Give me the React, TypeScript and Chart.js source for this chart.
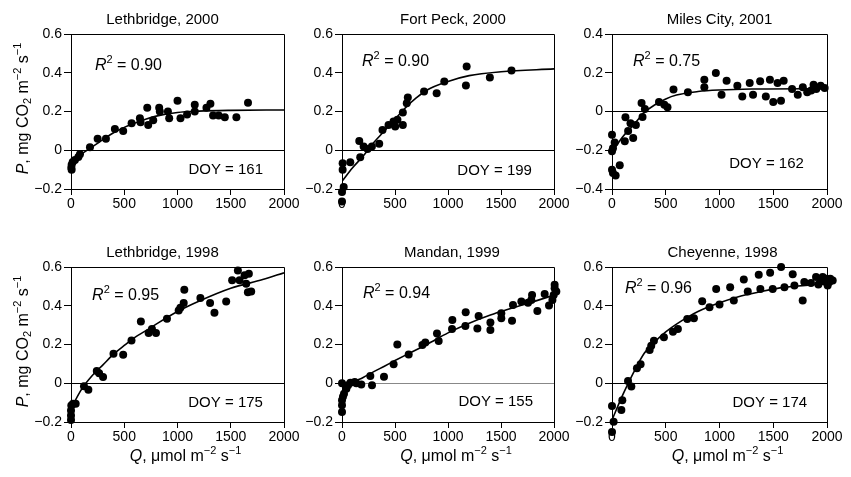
import React, { useEffect, useRef } from 'react';
import { Chart, registerables } from 'chart.js';
Chart.register(...registerables);

const FONT = "'Liberation Sans', Arial, Helvetica, sans-serif";

// ---------- Data (Q: µmol m-2 s-1, P: mg CO2 m-2 s-1) ----------
// Lethbridge, 2000
const leth2000Q = [3, 6, 6, 16, 37, 69, 84, 178, 250, 328, 412, 490, 569, 647, 653, 716, 725, 772, 828, 834, 910, 922, 1000, 1028, 1090, 1162, 1162, 1272, 1309, 1334, 1387, 1444, 1553, 1662];
const leth2000P = [-0.09, -0.1, -0.075, -0.06, -0.05, -0.035, -0.02, 0.015, 0.06, 0.06, 0.11, 0.1, 0.14, 0.165, 0.145, 0.22, 0.13, 0.155, 0.22, 0.2, 0.2, 0.165, 0.255, 0.165, 0.185, 0.235, 0.2, 0.22, 0.24, 0.18, 0.18, 0.17, 0.17, 0.245];
const leth2000FitQ = [0, 50, 100, 180, 300, 400, 500, 600, 700, 800, 1000, 1200, 1500, 2000];
const leth2000FitP = [-0.09, -0.05, -0.02, 0.01, 0.055, 0.09, 0.118, 0.14, 0.16, 0.176, 0.195, 0.202, 0.206, 0.208];

// Fort Peck, 2000
const fortPeckQ = [0, 0, 16, 6, 6, 78, 163, 172, 204, 241, 282, 351, 382, 439, 486, 502, 523, 574, 574, 611, 621, 774, 893, 965, 1176, 1169, 1395, 1599];
const fortPeckP = [-0.265, -0.215, -0.19, -0.1, -0.067, -0.062, 0.048, -0.036, 0.019, 0.007, 0.02, 0.033, 0.105, 0.13, 0.148, 0.122, 0.157, 0.13, 0.195, 0.243, 0.272, 0.303, 0.294, 0.355, 0.432, 0.334, 0.375, 0.411];
const fortPeckFitQ = [0, 100, 200, 300, 400, 500, 600, 700, 800, 1000, 1200, 1500, 2000];
const fortPeckFitP = [-0.16, -0.09, -0.03, 0.04, 0.1, 0.16, 0.22, 0.27, 0.31, 0.355, 0.385, 0.405, 0.42];

// Miles City, 2001
const milesQ = [0, 0, 9, 25, 0, 9, 34, 72, 119, 125, 150, 172, 197, 222, 275, 284, 306, 437, 487, 516, 572, 706, 859, 859, 966, 1019, 1066, 1166, 1212, 1281, 1312, 1378, 1431, 1469, 1500, 1540, 1572, 1597, 1675, 1728, 1775, 1816, 1853, 1875, 1900, 1941, 1978];
const milesP = [-0.12, -0.205, -0.19, -0.16, -0.3, -0.317, -0.33, -0.278, -0.154, -0.03, -0.1, -0.06, -0.137, -0.07, 0.044, -0.028, 0.013, 0.049, 0.035, 0.022, 0.113, 0.099, 0.164, 0.125, 0.199, 0.087, 0.159, 0.133, 0.078, 0.147, 0.087, 0.156, 0.078, 0.164, 0.049, 0.147, 0.056, 0.159, 0.116, 0.087, 0.125, 0.099, 0.109, 0.138, 0.116, 0.133, 0.121];
const milesFitQ = [0, 100, 200, 300, 400, 500, 600, 800, 1000, 1300, 2000];
const milesFitP = [-0.21, -0.13, -0.07, -0.005, 0.035, 0.065, 0.085, 0.103, 0.111, 0.116, 0.118];

// Lethbridge, 1998
const leth1998Q = [0, 0, 0, 3, 19, 44, 122, 163, 242, 264, 301, 399, 490, 568, 656, 729, 760, 798, 901, 1011, 1027, 1064, 1058, 1215, 1306, 1347, 1457, 1513, 1567, 1583, 1630, 1670, 1645, 1661, 1692];
const leth1998P = [-0.19, -0.166, -0.14, -0.115, -0.106, -0.106, -0.016, -0.034, 0.063, 0.052, 0.032, 0.152, 0.147, 0.221, 0.319, 0.259, 0.28, 0.259, 0.333, 0.376, 0.39, 0.482, 0.414, 0.44, 0.414, 0.364, 0.422, 0.531, 0.582, 0.531, 0.557, 0.565, 0.514, 0.47, 0.474];
const leth1998FitQ = [0, 100, 200, 300, 400, 500, 600, 700, 800, 1000, 1200, 1500, 1800, 2000];
const leth1998FitP = [-0.13, -0.03, 0.04, 0.095, 0.15, 0.195, 0.237, 0.27, 0.305, 0.37, 0.423, 0.49, 0.535, 0.57];

// Mandan, 1999
const mandanQ = [0, 0, 0, 0, 9, 19, 41, 57, 79, 120, 135, 182, 267, 283, 396, 487, 522, 629, 758, 786, 896, 912, 1038, 1041, 1164, 1167, 1289, 1277, 1400, 1400, 1503, 1503, 1604, 1613, 1692, 1755, 1793, 1786, 1843, 1912, 1953, 1985, 2006, 2006, 2022, 1997];
const mandanP = [0, -0.088, -0.114, -0.149, -0.07, -0.054, -0.028, -0.01, 0.002, 0.007, 0, -0.007, 0.038, -0.01, 0.033, 0.098, 0.2, 0.149, 0.197, 0.21, 0.257, 0.218, 0.28, 0.327, 0.295, 0.366, 0.347, 0.283, 0.313, 0.275, 0.335, 0.361, 0.323, 0.404, 0.422, 0.416, 0.456, 0.43, 0.373, 0.461, 0.401, 0.43, 0.508, 0.49, 0.473, 0.456];
const mandanFitQ = [0, 30, 90, 200, 300, 400, 500, 600, 800, 1000, 1200, 1400, 1600, 1800, 2000];
const mandanFitP = [-0.055, -0.025, 0.0, 0.03, 0.06, 0.088, 0.117, 0.145, 0.2, 0.26, 0.31, 0.352, 0.387, 0.42, 0.455];

// Cheyenne, 1998
const cheyenneQ = [0, 0, 15, 87, 96, 149, 180, 232, 266, 350, 365, 390, 483, 567, 613, 700, 762, 839, 907, 969, 1000, 1099, 1133, 1226, 1263, 1365, 1380, 1471, 1495, 1573, 1604, 1681, 1697, 1774, 1789, 1851, 1898, 1920, 1944, 1960, 1975, 1991, 2022, 2030, 2053, 2006];
const cheyenneP = [-0.252, -0.117, -0.199, -0.138, -0.088, 0.012, -0.017, 0.078, 0.098, 0.171, 0.194, 0.219, 0.237, 0.266, 0.28, 0.332, 0.335, 0.423, 0.392, 0.487, 0.406, 0.496, 0.427, 0.536, 0.473, 0.56, 0.487, 0.57, 0.487, 0.6, 0.496, 0.562, 0.505, 0.427, 0.522, 0.517, 0.548, 0.51, 0.53, 0.548, 0.525, 0.539, 0.522, 0.54, 0.53, 0.505];
const cheyenneFitQ = [0, 100, 200, 300, 400, 500, 600, 700, 800, 1000, 1200, 1400, 1600, 1800, 2000];
const cheyenneFitP = [-0.19, -0.06, 0.055, 0.155, 0.215, 0.265, 0.305, 0.34, 0.37, 0.415, 0.45, 0.475, 0.495, 0.505, 0.515];

const xTicks = [0, 500, 1000, 1500, 2000];

// ---------- Layout ----------
const COL_PLOT_LEFT = [71, 342, 612];
const COL_PLOT_WIDTH = [213, 212, 215];
const ROW_CANVAS_TOP = [0, 236];
const ROW_CANVAS_H = [236, 241];
const ROW_PLOT_TOP = [34, 267];
const ROW_PLOT_BOTTOM = [189, 422];
const AXIS_W = 62;
const RIGHT_PAD = 26;

type Seg = { t: string; i?: boolean; sup?: boolean; sub?: boolean };

interface PanelCfg {
  col: number; row: number; title: string; r2: string; doy: string;
  q: number[]; p: number[]; fq: number[]; fp: number[];
  yMin: number; yMax: number;
  r2At: [number, number]; doyAt: [number, number];
  titleOffset: number; zeroColor: string;
  yTitle: boolean; xTitle: boolean;
}

const PANELS: PanelCfg[] = [
  { col: 0, row: 0, title: 'Lethbridge, 2000', r2: '0.90', doy: '161', q: leth2000Q, p: leth2000P, fq: leth2000FitQ, fp: leth2000FitP, yMin: -0.2, yMax: 0.6, r2At: [225, 0.414], doyAt: [1803, -0.123], titleOffset: -15, zeroColor: '#000', yTitle: true, xTitle: false },
  { col: 1, row: 0, title: 'Fort Peck, 2000', r2: '0.90', doy: '199', q: fortPeckQ, p: fortPeckP, fq: fortPeckFitQ, fp: fortPeckFitP, yMin: -0.2, yMax: 0.6, r2At: [189, 0.435], doyAt: [1792, -0.128], titleOffset: 5, zeroColor: '#000', yTitle: false, xTitle: false },
  { col: 2, row: 0, title: 'Miles City, 2001', r2: '0.75', doy: '162', q: milesQ, p: milesP, fq: milesFitQ, fp: milesFitP, yMin: -0.4, yMax: 0.4, r2At: [196, 0.235], doyAt: [1785, -0.292], titleOffset: 0, zeroColor: '#000', yTitle: false, xTitle: false },
  { col: 0, row: 1, title: 'Lethbridge, 1998', r2: '0.95', doy: '175', q: leth1998Q, p: leth1998P, fq: leth1998FitQ, fp: leth1998FitP, yMin: -0.2, yMax: 0.6, r2At: [198, 0.43], doyAt: [1802, -0.123], titleOffset: -15, zeroColor: '#000', yTitle: true, xTitle: true },
  { col: 1, row: 1, title: 'Mandan, 1999', r2: '0.94', doy: '155', q: mandanQ, p: mandanP, fq: mandanFitQ, fp: mandanFitP, yMin: -0.2, yMax: 0.6, r2At: [198, 0.44], doyAt: [1802, -0.115], titleOffset: 4, zeroColor: '#888', yTitle: false, xTitle: true },
  { col: 2, row: 1, title: 'Cheyenne, 1998', r2: '0.96', doy: '174', q: cheyenneQ, p: cheyenneP, fq: cheyenneFitQ, fp: cheyenneFitP, yMin: -0.2, yMax: 0.6, r2At: [120, 0.466], doyAt: [1815, -0.123], titleOffset: 3, zeroColor: '#000', yTitle: false, xTitle: true },
];

function alignPx(v: number) {
  return Math.round(v - 0.5) + 0.5;
}

function drawRich(ctx: CanvasRenderingContext2D, segs: Seg[], x: number, y: number, size: number, align: 'left' | 'center' | 'right') {
  const small = Math.round(size * 0.68);
  const fontFor = (s: Seg) => `${s.i ? 'italic ' : ''}${s.sup || s.sub ? small : size}px ${FONT}`;
  const widths = segs.map((s) => { ctx.font = fontFor(s); return ctx.measureText(s.t).width; });
  const total = widths.reduce((a, b) => a + b, 0);
  let cx = align === 'left' ? x : align === 'center' ? x - total / 2 : x - total;
  ctx.textAlign = 'left';
  ctx.textBaseline = 'alphabetic';
  segs.forEach((s, k) => {
    ctx.font = fontFor(s);
    const dy = s.sup ? -size * 0.42 : s.sub ? size * 0.22 : 0;
    ctx.fillText(s.t, cx, y + dy);
    cx += widths[k];
  });
}

const Y_TITLE: Seg[] = [{ t: 'P', i: true }, { t: ', mg CO' }, { t: '2', sub: true }, { t: ' m' }, { t: '\u22122', sup: true }, { t: ' s' }, { t: '\u22121', sup: true }];
const X_TITLE: Seg[] = [{ t: 'Q', i: true }, { t: ', \u03bcmol m' }, { t: '\u22122', sup: true }, { t: ' s' }, { t: '\u22121', sup: true }];

function fmtY(v: number) {
  if (Math.abs(v) < 1e-9) return '0';
  return (v < 0 ? '\u2212' : '') + Math.abs(v).toFixed(1);
}

function Panel({ cfg }: { cfg: PanelCfg }) {
  const ref = useRef<HTMLCanvasElement>(null);
  const left = COL_PLOT_LEFT[cfg.col] - AXIS_W;
  const width = AXIS_W + COL_PLOT_WIDTH[cfg.col] + RIGHT_PAD;
  const top = ROW_CANVAS_TOP[cfg.row];
  const height = ROW_CANVAS_H[cfg.row];
  const padTop = ROW_PLOT_TOP[cfg.row] - top;
  const xAxisH = height - (ROW_PLOT_BOTTOM[cfg.row] - top);

  useEffect(() => {
    if (!ref.current) return;
    const decor = {
      id: 'decor',
      beforeDatasetsDraw(chart: any) {
        const { ctx, chartArea } = chart;
        const y = alignPx(chart.scales.y.getPixelForValue(0));
        ctx.save();
        ctx.strokeStyle = cfg.zeroColor;
        ctx.lineWidth = 1;
        ctx.beginPath();
        ctx.moveTo(chartArea.left, y);
        ctx.lineTo(chartArea.right, y);
        ctx.stroke();
        ctx.restore();
      },
      afterDatasetsDraw(chart: any) {
        // Chart.js skips points whose centre lies outside the chart area;
        // draw those overflowing points (the library's own elements) here.
        const { ctx, chartArea: a } = chart;
        const meta = chart.getDatasetMeta(0);
        ctx.save();
        meta.data.forEach((el: any) => {
          const r = 4;
          const inside = el.x > a.left - r && el.x < a.right + r && el.y > a.top - r && el.y < a.bottom + r;
          if (!inside) el.draw(ctx);
        });
        ctx.restore();
      },
      afterDraw(chart: any) {
        const { ctx, chartArea, scales } = chart;
        const { left: l, right: r, top: t, bottom: b } = chartArea;
        ctx.save();
        ctx.strokeStyle = '#000';
        ctx.lineWidth = 1;
        ctx.beginPath();
        ctx.moveTo(alignPx(l), alignPx(t));
        ctx.lineTo(alignPx(r), alignPx(t));
        ctx.lineTo(alignPx(r), alignPx(b));
        ctx.stroke();
        ctx.fillStyle = '#000';
        // title
        drawRich(ctx, [{ t: cfg.title }], (l + r) / 2 + cfg.titleOffset, t - 10, 15, 'center');
        // R^2
        drawRich(ctx, [{ t: 'R', i: true }, { t: '2', sup: true }, { t: ' = ' + cfg.r2 }],
          scales.x.getPixelForValue(cfg.r2At[0]), scales.y.getPixelForValue(cfg.r2At[1]), 16, 'left');
        // DOY
        drawRich(ctx, [{ t: 'DOY = ' + cfg.doy }],
          scales.x.getPixelForValue(cfg.doyAt[0]), scales.y.getPixelForValue(cfg.doyAt[1]), 15, 'right');
        if (cfg.xTitle) {
          drawRich(ctx, X_TITLE, (l + r) / 2 + 8, b + 39, 16, 'center');
        }
        if (cfg.yTitle) {
          ctx.translate(l - 49, (t + b) / 2 - 3);
          ctx.rotate(-Math.PI / 2);
          drawRich(ctx, Y_TITLE, 0, 16 * 0.36, 16, 'center');
        }
        ctx.restore();
      },
    };

    const chart = new Chart(ref.current, {
      type: 'scatter',
      data: {
        datasets: [
          {
            data: cfg.q.map((q, i) => ({ x: q, y: cfg.p[i] })),
            backgroundColor: '#000',
            borderColor: '#000',
            pointRadius: 4,
            pointHoverRadius: 4,
            borderWidth: 0,
            clip: false,
            order: 1,
          } as any,
          {
            data: cfg.fq.map((q, i) => ({ x: q, y: cfg.fp[i] })),
            showLine: true,
            borderColor: '#000',
            borderWidth: 1.6,
            pointRadius: 0,
            pointHoverRadius: 0,
            tension: 0.4,
            cubicInterpolationMode: 'monotone',
            fill: false,
            order: 2,
          } as any,
        ],
      },
      options: {
        responsive: false,
        animation: false,
        events: [],
        layout: { padding: { top: padTop, right: RIGHT_PAD, bottom: 0, left: 0 } },
        plugins: { legend: { display: false }, tooltip: { enabled: false }, title: { display: false } },
        scales: {
          x: {
            type: 'linear',
            min: 0,
            max: 2000,
            afterBuildTicks: (s: any) => { s.ticks = xTicks.map((v) => ({ value: v })); },
            ticks: { color: '#000', font: { size: 14, family: FONT }, padding: 1, maxRotation: 0, autoSkip: false, callback: (v: any) => String(v) },
            grid: { drawOnChartArea: false, drawTicks: true, tickLength: 6, color: '#000', lineWidth: 1 },
            border: { display: true, color: '#000', width: 1 },
            afterFit: (s: any) => { s.height = xAxisH; },
          },
          y: {
            type: 'linear',
            min: cfg.yMin,
            max: cfg.yMax,
            ticks: { stepSize: 0.2, color: '#000', font: { size: 14, family: FONT }, padding: 2, callback: (v: any) => fmtY(Number(v)) },
            grid: { drawOnChartArea: false, drawTicks: true, tickLength: 7, color: '#000', lineWidth: 1 },
            border: { display: true, color: '#000', width: 1 },
            afterFit: (s: any) => { s.width = AXIS_W; },
          },
        },
      } as any,
      plugins: [decor],
    });
    return () => chart.destroy();
  }, []);

  return (
    <canvas
      ref={ref}
      width={width}
      height={height}
      style={{ position: 'absolute', left, top, width, height }}
    />
  );
}

export default function App() {
  return (
    <div style={{ position: 'absolute', left: 0, top: 0, width: 851, height: 477, background: '#fff', overflow: 'hidden' }}>
      {PANELS.map((p, i) => <Panel key={i} cfg={p} />)}
    </div>
  );
}
